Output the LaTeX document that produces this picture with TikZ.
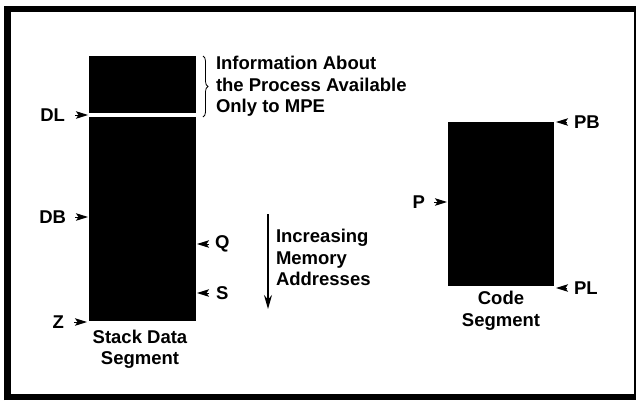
\documentclass[tikz,border=0pt]{standalone}
\usepackage{fontspec}
\setmainfont{Liberation Sans}
\usetikzlibrary{arrows.meta,decorations.pathreplacing}
\begin{document}
\begin{tikzpicture}[x=1pt,y=-1pt,
  every node/.style={font=\fontsize{18.5}{21.5}\selectfont\bfseries, inner sep=0pt, outer sep=0pt},
  seg/.style={fill=black, draw=none, inner sep=0pt, outer sep=0pt},
  ptr/.style={-{Stealth[length=12pt,width=7.5pt,inset=2.5pt]}, line width=1pt},
  dirarrow/.style={-{Stealth[length=14pt,width=8pt]}, line width=1.3pt}]
\useasboundingbox (0,0) rectangle (636,400);
% frame
\draw[line width=7pt] (7,400) -- (7,8.5);
\draw[line width=6pt] (4,8.5) -- (636,8.5);
\draw[line width=6pt] (4,397) -- (636,397);
\draw[line width=3pt] (635,8) -- (635,400);
% stack data segment
\node[seg, minimum width=107pt, minimum height=57pt] (info) at (142.5,84.5) {};
\node[seg, minimum width=107pt, minimum height=204pt] (stack) at (142.5,219) {};
\node[align=center] (stacklbl) at (140,349) {Stack Data\\Segment};
% code segment
\node[seg, minimum width=106pt, minimum height=164pt] (code) at (501,204) {};
\node[align=center] (codelbl) at (501,310.5) {Code\\Segment};
% brace and info text
\coordinate (bt) at (203,56);
\coordinate (bb) at (203,117);
\draw[decorate, decoration={brace, amplitude=5pt}, line width=0.8pt] (bt) -- (bb);
\node[align=left, anchor=west] (infotxt) at (216,86.5) {Information About\\the Process Available\\Only to MPE};
% left pointers
\node[anchor=east] (DL) at (65,115) {DL};
\node[anchor=east] (DB) at (66,217) {DB};
\node[anchor=east] (Z) at (64,322) {Z};
\coordinate (DLt) at (75,115); \coordinate (DLh) at (88,115);
\coordinate (DBt) at (75,217); \coordinate (DBh) at (88,217);
\coordinate (Zt) at (74,322); \coordinate (Zh) at (87,322);
\draw[ptr] (DLt) -- (DLh);
\draw[ptr] (DBt) -- (DBh);
\draw[ptr] (Zt) -- (Zh);
% right pointers of stack
\node[anchor=west] (Q) at (215,244) {Q};
\node[anchor=west] (S) at (216,293) {S};
\coordinate (Qt) at (209,244); \coordinate (Qh) at (197,244);
\coordinate (St) at (209,293); \coordinate (Sh) at (197,293);
\draw[ptr] (Qt) -- (Qh);
\draw[ptr] (St) -- (Sh);
% code pointers
\node[anchor=west] (PB) at (574,122) {PB};
\node[anchor=west] (PL) at (574,288) {PL};
\node[anchor=east] (P) at (425,202) {P};
\coordinate (PBt) at (567,122); \coordinate (PBh) at (556,122);
\coordinate (PLt) at (567,288); \coordinate (PLh) at (556,288);
\coordinate (Pt) at (434,202); \coordinate (Ph) at (447,202);
\draw[ptr] (PBt) -- (PBh);
\draw[ptr] (PLt) -- (PLh);
\draw[ptr] (Pt) -- (Ph);
% direction arrow
\coordinate (dtop) at (268,214);
\coordinate (dbot) at (268,309);
\draw[dirarrow] (dtop) -- (dbot);
\node[align=left, anchor=west] (inc) at (276,257.5) {Increasing\\Memory\\Addresses};
\end{tikzpicture}
\end{document}
